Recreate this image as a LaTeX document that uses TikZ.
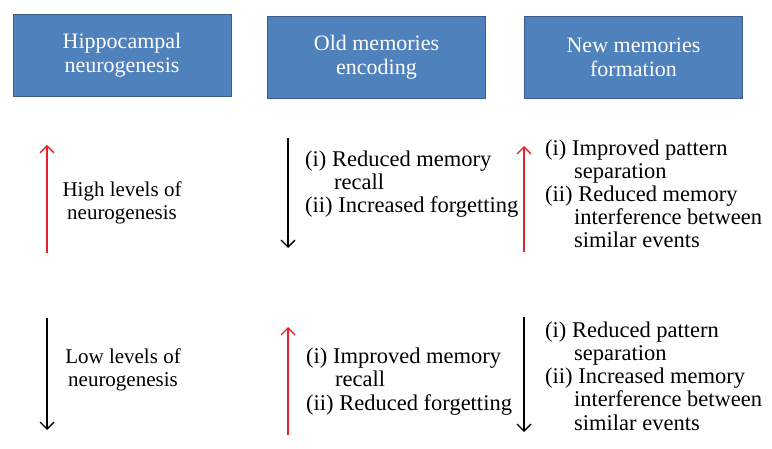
\documentclass[tikz,border=0pt]{standalone}
\usepackage{fontspec}
\setmainfont{Liberation Serif}
\usetikzlibrary{arrows.meta}
\definecolor{boxblue}{RGB}{79,129,189}
\definecolor{boxline}{RGB}{56,93,138}
\definecolor{arrowred}{RGB}{232,32,42}
\tikzstyle{headbox} = [draw=boxline, fill=boxblue, line width=0.8pt, minimum width=218pt, minimum height=82pt, text=white, align=center, font=\fontsize{22}{24}\selectfont]
\tikzstyle{updown} = [line width=1.4pt, -{Straight Barb[length=7pt,width=14pt]}]
\tikzstyle{lvl} = [align=center, anchor=base, inner sep=0pt, font=\fontsize{21}{23}\selectfont]
\tikzstyle{item} = [align=left, anchor=base west, inner sep=0pt, font=\fontsize{22.5}{23.2}\selectfont]
\newcommand{\ind}{\hspace*{29pt}}

\begin{document}
\begin{tikzpicture}[x=1pt,y=-1pt]
\useasboundingbox [fill=white] (0,0) rectangle (772,449);
% column heads
\node (hippo) [headbox] at (122,55) {Hippocampal\\neurogenesis};
\node (old) [headbox] at (376.5,57) {Old memories\\encoding};
\node (new) [headbox] at (633.5,57) {New memories\\formation};
%
% high levels of neurogenesis
\coordinate (h1) at (47,253); \coordinate (h2) at (47,145);
\draw [updown, arrowred] (h1)--(h2);
\node (high) [lvl] at (122,220) {High levels of\\neurogenesis};
\coordinate (o1) at (288,138); \coordinate (o2) at (288,248);
\draw [updown] (o1)--(o2);
\node (oldhigh) [item] at (305,213) {(i) Reduced memory\\\ind recall\\(ii) Increased forgetting};
\coordinate (n1) at (524,252); \coordinate (n2) at (524,146);
\draw [updown, arrowred] (n1)--(n2);
\node (newhigh) [item] at (545,248) {(i) Improved pattern\\\ind separation\\(ii) Reduced memory\\\ind interference between\\\ind similar events};
%
% low levels of neurogenesis
\coordinate (l1) at (47,318); \coordinate (l2) at (47,430);
\draw [updown] (l1)--(l2);
\node (low) [lvl] at (123,387) {Low levels of\\neurogenesis};
\coordinate (p1) at (288,435); \coordinate (p2) at (288,327);
\draw [updown, arrowred] (p1)--(p2);
\node (oldlow) [item] at (306,410) {(i) Improved memory\\\ind recall\\(ii) Reduced forgetting};
\coordinate (q1) at (524,317); \coordinate (q2) at (524,432);
\draw [updown] (q1)--(q2);
\node (newlow) [item] at (545,430) {(i) Reduced pattern\\\ind separation\\(ii) Increased memory\\\ind interference between\\\ind similar events};
\end{tikzpicture}
\end{document}
